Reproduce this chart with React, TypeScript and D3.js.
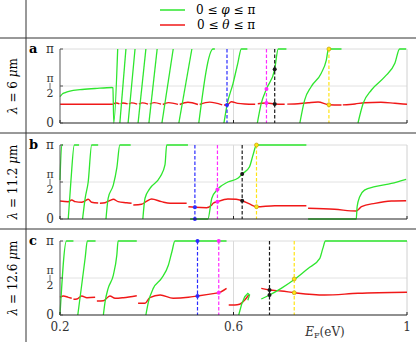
import React from 'react';
import * as d3 from 'd3';

type Pt = [number, number];

// E_F in eV, phase in units of pi
const xTicks = [0.2, 0.6, 1];
const cutColors = ['#2b2bff', '#ff2bff', '#1a1a1a', '#ffe414'];

const greenA: Pt[][] = [
  [[0.2, 0.355], [0.205, 0.39], [0.212, 0.41], [0.223, 0.43], [0.246, 0.45], [0.281, 0.466], [0.32, 0.48], [0.322, 0.475], [0.324, 0], [0.333, 1]],
  [[0.338, 0], [0.352, 1]],
  [[0.357, 0], [0.373, 1]],
  [[0.38, 0], [0.398, 1]],
  [[0.405, 0], [0.424, 1]],
  [[0.435, 0], [0.461, 1]],
  [[0.474, 0], [0.504, 1]],
  [[0.52, 0], [0.553, 1], [0.557, 1]],
  [[0.578, 0], [0.585, 0.243], [0.599, 0.536], [0.61, 0.81], [0.618, 1], [0.632, 1]],
  [[0.655, 0], [0.664, 0.266], [0.676, 0.46], [0.695, 0.726], [0.703, 1], [0.722, 1]],
  [[0.753, 0], [0.764, 0.31], [0.779, 0.49], [0.802, 0.67], [0.814, 0.85], [0.819, 1], [0.849, 1]],
  [[0.887, 0], [0.899, 0.266], [0.918, 0.446], [0.949, 0.626], [0.972, 0.806], [0.983, 1], [0.998, 1]],
];
const redA: Pt[][] = [
  [[0.2, 0.253], [0.322, 0.253]],
  [[0.323, 0.26], [0.33, 0.27], [0.337, 0.258]],
  [[0.34, 0.255], [0.345, 0.27], [0.356, 0.258]],
  [[0.359, 0.255], [0.365, 0.272], [0.378, 0.255]],
  [[0.382, 0.255], [0.39, 0.272], [0.403, 0.255]],
  [[0.407, 0.255], [0.417, 0.275], [0.433, 0.255]],
  [[0.437, 0.25], [0.45, 0.275], [0.472, 0.252]],
  [[0.476, 0.25], [0.495, 0.28], [0.518, 0.25]],
  [[0.522, 0.25], [0.545, 0.282], [0.574, 0.245]],
  [[0.578, 0.243], [0.585, 0.243], [0.595, 0.288], [0.61, 0.266], [0.626, 0.257], [0.65, 0.253]],
  [[0.656, 0.26], [0.664, 0.266], [0.676, 0.27], [0.695, 0.257], [0.718, 0.253]],
  [[0.724, 0.255], [0.741, 0.257], [0.772, 0.274], [0.795, 0.284], [0.82, 0.247], [0.849, 0.243]],
  [[0.852, 0.245], [0.88, 0.257], [0.902, 0.274], [0.94, 0.28], [0.972, 0.266], [1.0, 0.253]],
];
const cutsA = [0.585, 0.676, 0.695, 0.82];
const dotsA: Pt[][] = [
  [[0.585, 0.243]],
  [[0.676, 0.46], [0.676, 0.27]],
  [[0.695, 0.726], [0.695, 0.257]],
  [[0.82, 1], [0.82, 0.247]],
];

const greenB: Pt[][] = [
  [[0.2, 0.527], [0.204, 1], [0.207, 1]],
  [[0.219, 0], [0.225, 0.5], [0.233, 1], [0.244, 1]],
  [[0.252, 0], [0.258, 0.28], [0.265, 0.5], [0.273, 1], [0.288, 1]],
  [[0.306, 0], [0.311, 0.28], [0.323, 0.46], [0.331, 0.69], [0.338, 1], [0.363, 1]],
  [[0.391, 0], [0.396, 0.28], [0.407, 0.41], [0.431, 0.57], [0.442, 0.73], [0.446, 1], [0.495, 1]],
  [[0.5, 0], [0.541, 0], [0.55, 0.28], [0.563, 0.4], [0.587, 0.5], [0.61, 0.55], [0.62, 0.608], [0.637, 0.707], [0.645, 0.865], [0.653, 1], [0.768, 1]],
  [[0.772, 0], [0.883, 0], [0.885, 0.166], [0.891, 0.3], [0.902, 0.39], [0.926, 0.436], [0.964, 0.48], [0.998, 0.536]],
];
const redB: Pt[][] = [
  [[0.2, 0.243], [0.219, 0.234], [0.227, 0.257], [0.235, 0.234], [0.25, 0.226], [0.258, 0.245], [0.265, 0.266], [0.273, 0.226], [0.288, 0.216]],
  [[0.292, 0.212], [0.304, 0.22], [0.315, 0.25], [0.323, 0.266], [0.334, 0.234], [0.354, 0.22], [0.365, 0.212]],
  [[0.369, 0.189], [0.388, 0.199], [0.4, 0.24], [0.411, 0.27], [0.434, 0.234], [0.454, 0.212], [0.492, 0.212]],
  [[0.496, 0.166], [0.511, 0.158], [0.538, 0.153], [0.55, 0.189], [0.553, 0.212], [0.563, 0.234], [0.587, 0.27], [0.606, 0.266], [0.62, 0.247], [0.637, 0.203], [0.653, 0.166], [0.695, 0.18], [0.768, 0.18]],
  [[0.772, 0.145], [0.833, 0.131], [0.883, 0.108], [0.895, 0.166], [0.926, 0.212], [0.964, 0.243], [0.998, 0.247]],
];
const cutsB = [0.511, 0.563, 0.62, 0.653];
const dotsB: Pt[][] = [
  [[0.511, 0.158], [0.511, 0]],
  [[0.563, 0.4], [0.563, 0.234]],
  [[0.62, 0.608], [0.62, 0.247]],
  [[0.653, 1], [0.653, 0.166]],
];

const greenC: Pt[][] = [
  [[0.2, 0], [0.215, 1], [0.231, 1]],
  [[0.241, 0], [0.25, 0.405], [0.258, 0.77], [0.263, 1], [0.282, 1]],
  [[0.3, 0], [0.304, 0.18], [0.311, 0.36], [0.323, 0.54], [0.331, 0.81], [0.334, 1], [0.377, 1]],
  [[0.398, 0], [0.404, 0.18], [0.415, 0.36], [0.434, 0.495], [0.45, 0.675], [0.458, 0.855], [0.465, 1], [0.584, 1]],
  [[0.612, 0], [0.619, 0.15], [0.626, 0.247], [0.633, 0.293], [0.637, 0.27], [0.633, 0.2]],
  [[0.664, 0.216], [0.683, 0.27], [0.71, 0.36], [0.741, 0.482], [0.772, 0.63], [0.799, 0.766], [0.806, 0.9], [0.812, 1], [1.0, 1]],
];
const redC: Pt[][] = [
  [[0.2, 0.239], [0.208, 0.257], [0.219, 0.239], [0.227, 0.226]],
  [[0.231, 0.212], [0.239, 0.216], [0.25, 0.257], [0.262, 0.234], [0.281, 0.239]],
  [[0.285, 0.189], [0.3, 0.193], [0.315, 0.257], [0.327, 0.226], [0.346, 0.234], [0.377, 0.261]],
  [[0.38, 0.158], [0.396, 0.158], [0.407, 0.234], [0.431, 0.27], [0.461, 0.226], [0.496, 0.239], [0.517, 0.257], [0.557, 0.293], [0.566, 0.301], [0.584, 0.36]],
  [[0.589, 0.135], [0.603, 0.135], [0.614, 0.145], [0.626, 0.203], [0.635, 0.27]],
  [[0.664, 0.36], [0.683, 0.338], [0.71, 0.324], [0.741, 0.301], [0.81, 0.27], [0.887, 0.293], [1.0, 0.307]],
];
const cutsC = [0.517, 0.566, 0.683, 0.74];
const dotsC: Pt[][] = [
  [[0.517, 1], [0.517, 0.257]],
  [[0.566, 1], [0.566, 0.301]],
  [[0.683, 0.338], [0.683, 0.27]],
  [[0.74, 0.486], [0.74, 0.301]],
];

const panels = [
  { tag: 'a', lam: '6', top: 49, bottom: 123, green: greenA, red: redA, cuts: cutsA, dots: dotsA },
  { tag: 'b', lam: '11.2', top: 145, bottom: 219, green: greenB, red: redB, cuts: cutsB, dots: dotsB },
  { tag: 'c', lam: '12.6', top: 241, bottom: 315, green: greenC, red: redC, cuts: cutsC, dots: dotsC },
];

const W = 416;
const H = 342;
const x = d3.scaleLinear().domain([0.2, 1]).range([60, 407]);
const serif = { fontFamily: "'DejaVu Serif', 'Liberation Serif', serif" };

function Panel({ p, last }: { p: (typeof panels)[number]; last: boolean }) {
  const y = d3.scaleLinear().domain([0, 1]).range([p.bottom, p.top]);
  const line = d3.line<Pt>().x(d => x(d[0])).y(d => y(d[1])).curve(d3.curveMonotoneX);
  const rawLine = d3.line<Pt>().x(d => x(d[0])).y(d => y(d[1]));
  const mid = y(0.5);
  return (
    <g>
      {/* grid + frame */}
      <line x1={x(0.2)} x2={x(1)} y1={mid} y2={mid} stroke="#e2e2e2" />
      <line x1={x(0.6)} x2={x(0.6)} y1={y(1)} y2={y(0)} stroke="#dadada" />
      <line x1={x(0.2)} x2={x(1)} y1={y(1)} y2={y(1)} stroke="#dcdcdc" />
      <line x1={x(1)} x2={x(1)} y1={y(1)} y2={y(0)} stroke="#d0d0d0" />

      {p.red.map((s, i) => (
        <path key={'r' + i} d={line(s) || ''} fill="none" stroke="#f01818" strokeWidth={1.4} />
      ))}
      {p.green.map((s, i) => (
        <path key={'g' + i} d={(s.length > 3 && s[s.length - 1][0] < s[s.length - 2][0] ? rawLine(s) : line(s)) || ''} fill="none" stroke="#2ee62e" strokeWidth={1.3} />
      ))}

      {p.cuts.map((c, i) => (
        <line key={'c' + i} x1={x(c)} x2={x(c)} y1={y(1)} y2={y(0)} stroke={cutColors[i]} strokeWidth={1.2} strokeDasharray="3.5 2" />
      ))}
      {p.dots.map((ds, i) =>
        ds.map((d, j) => (
          <circle key={'d' + i + j} cx={x(d[0])} cy={y(d[1])} r={2}
            fill={cutColors[i]} stroke={i === 3 ? '#b89600' : 'none'} strokeWidth={0.6} />
        ))
      )}

      {/* axes */}
      <line x1={x(0.2)} x2={x(0.2)} y1={y(1)} y2={y(0)} stroke="#555" strokeWidth={1} />
      <line x1={x(0.2)} x2={x(1)} y1={y(0)} y2={y(0)} stroke="#222" strokeWidth={1.2} />
      {xTicks.map(t => (
        <line key={'xt' + t} x1={x(t)} x2={x(t)} y1={y(0)} y2={y(0) - 3} stroke="#222" />
      ))}
      {[0, 0.5, 1].map(t => (
        <line key={'yt' + t} x1={x(0.2)} x2={x(0.2) + 3} y1={y(t)} y2={y(t)} stroke="#555" />
      ))}

      {/* y tick labels */}
      <g style={serif} fill="#333">
        <text x={50} y={y(1) + 4} textAnchor="middle" fontSize={12}>π</text>
        <text x={50} y={mid - 4} textAnchor="middle" fontSize={11}>π</text>
        <line x1={50} x2={50} y1={mid - 3} y2={mid + 3} stroke="#444" strokeWidth={0.8} />
        <text x={50} y={mid + 11} textAnchor="middle" fontSize={11}>2</text>
        <text x={50} y={y(0) + 4} textAnchor="middle" fontSize={12}>0</text>
      </g>

      <text x={29} y={p.top + 4} fontSize={13} fontWeight="bold" style={serif}>{p.tag}</text>
      <text transform={`translate(17,${(p.top + p.bottom) / 2}) rotate(-90)`} textAnchor="middle" fontSize={12} style={serif}>
        <tspan fontStyle="italic">λ</tspan> = {p.lam} <tspan fontStyle="italic">μ</tspan>m
      </text>

      {last && (
        <g style={serif} fontSize={12} fill="#333">
          {xTicks.map(t => (
            <text key={'xl' + t} x={x(t)} y={y(0) + 16} textAnchor="middle">{t === 1 ? '1' : t.toFixed(1)}</text>
          ))}
          <text x={325} y={y(0) + 21} textAnchor="middle">
            <tspan fontStyle="italic">E</tspan>
            <tspan fontSize={8} dy={2}>F</tspan>
            <tspan dy={-2}>(eV)</tspan>
          </text>
        </g>
      )}
    </g>
  );
}

export default function App() {
  return (
    <svg width={W} height={H} style={{ display: 'block', position: 'absolute', left: 0, top: 0, background: '#fff' }}>
      <rect width={W} height={H} fill="#fff" />
      {/* table lines */}
      <line x1={26} x2={26} y1={0} y2={H} stroke="#333" strokeWidth={1} />
      {[38, 133, 229].map(v => (
        <line key={v} x1={0} x2={W} y1={v} y2={v} stroke="#333" strokeWidth={1} />
      ))}

      {/* legend */}
      <g style={{ ...serif, whiteSpace: 'pre' }} fontSize={12}>
        <line x1={160} x2={185} y1={10} y2={10} stroke="#2ee62e" strokeWidth={1.5} />
        <text x={196} y={14}>0 ≤ <tspan fontStyle="italic">φ</tspan> ≤ π</text>
        <line x1={160} x2={185} y1={25} y2={25} stroke="#f01818" strokeWidth={1.5} />
        <text x={197} y={29}>0 ≤ <tspan fontStyle="italic">θ</tspan> ≤ π</text>
      </g>

      {panels.map((p, i) => (
        <Panel key={p.tag} p={p} last={i === panels.length - 1} />
      ))}
    </svg>
  );
}
